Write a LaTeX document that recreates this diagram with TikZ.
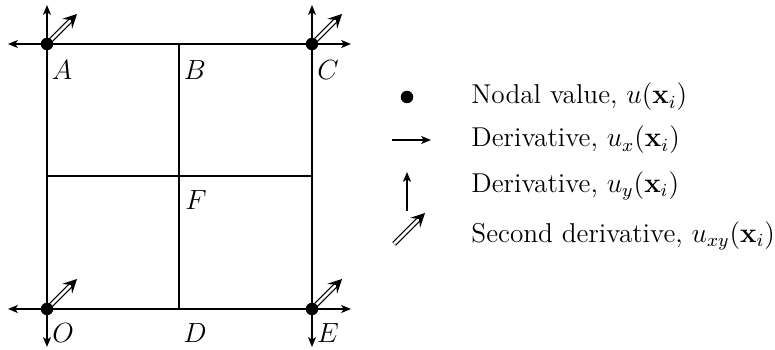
\documentclass[tikz,border=0pt]{standalone}
\usetikzlibrary{arrows.meta}
\begin{document}
\begin{tikzpicture}[x=0.433pt,y=-0.433pt,
  font=\fontsize{11.8}{14}\selectfont,
  grid/.style={line width=0.95pt},
  deriv/.style={line width=0.95pt,-{Stealth[length=4.2pt,width=3.4pt,inset=1pt]}},
  second/.style={double,double distance=1.1pt,line width=0.55pt,-{Stealth[length=6pt,width=6pt,inset=2.4pt]}},
  nodal/.style={circle,fill=black,inner sep=0pt,minimum size=5.4pt},
  lbl/.style={inner sep=0pt,anchor=center},
  legtext/.style={inner sep=0pt,anchor=west}]
\useasboundingbox (0,0) rectangle (775,350);
% corner / grid nodes
\coordinate (A) at (47,44);
\coordinate (B) at (179,44);
\coordinate (C) at (312,44);
\coordinate (O) at (47,309);
\coordinate (D) at (179,309);
\coordinate (E) at (312,309);
\coordinate (ML) at (47,176);
\coordinate (MR) at (312,176);
\coordinate (F) at (179,176);
% grid
\draw[grid] (A) -- (C) -- (E) -- (O) -- cycle;
\draw[grid] (B) -- (D);
\draw[grid] (ML) -- (MR);
% derivative arrow end points
\coordinate (Aup) at (47,5);
\coordinate (Aleft) at (8,44);
\coordinate (Adiag) at (77,14);
\coordinate (Cup) at (312,5);
\coordinate (Cright) at (351,44);
\coordinate (Cdiag) at (342,14);
\coordinate (Oleft) at (8,309);
\coordinate (Odown) at (47,347);
\coordinate (Odiag) at (77,279);
\coordinate (Eright) at (351,309);
\coordinate (Edown) at (312,347);
\coordinate (Ediag) at (342,279);
\draw[deriv] (A) -- (Aup);
\draw[deriv] (A) -- (Aleft);
\draw[deriv] (C) -- (Cup);
\draw[deriv] (C) -- (Cright);
\draw[deriv] (O) -- (Oleft);
\draw[deriv] (O) -- (Odown);
\draw[deriv] (E) -- (Eright);
\draw[deriv] (E) -- (Edown);
\draw[second] ([shift={(4,-4)}]A) -- (Adiag);
\draw[second] ([shift={(4,-4)}]C) -- (Cdiag);
\draw[second] ([shift={(4,-4)}]O) -- (Odiag);
\draw[second] ([shift={(4,-4)}]E) -- (Ediag);
\node[nodal] (dA) at (A) {};
\node[nodal] (dC) at (C) {};
\node[nodal] (dO) at (O) {};
\node[nodal] (dE) at (E) {};
% labels
\node[lbl] (lA) at (62,70) {$A$};
\node[lbl] (lB) at (195,70) {$B$};
\node[lbl] (lC) at (328,70) {$C$};
\node[lbl] (lF) at (196,200) {$F$};
\node[lbl] (lO) at (63,333) {$O$};
\node[lbl] (lD) at (195,333) {$D$};
\node[lbl] (lE) at (328,333) {$E$};
% legend
\node[nodal] (k1) at (407,97) {};
\node[legtext] (t1) at (471,97) {Nodal value, $u(\mathbf{x}_i)$};
\coordinate (k2a) at (392,140);
\coordinate (k2b) at (431,140);
\draw[deriv] (k2a) -- (k2b);
\node[legtext] (t2) at (471,140) {Derivative, $u_x(\mathbf{x}_i)$};
\coordinate (k3a) at (407,211);
\coordinate (k3b) at (407,172);
\draw[deriv] (k3a) -- (k3b);
\node[legtext] (t3) at (471,186) {Derivative, $u_y(\mathbf{x}_i)$};
\coordinate (k4a) at (394,244);
\coordinate (k4b) at (425,213);
\draw[second] (k4a) -- (k4b);
\node[legtext] (t4) at (471,236) {Second derivative, $u_{xy}(\mathbf{x}_i)$};
\end{tikzpicture}
\end{document}
